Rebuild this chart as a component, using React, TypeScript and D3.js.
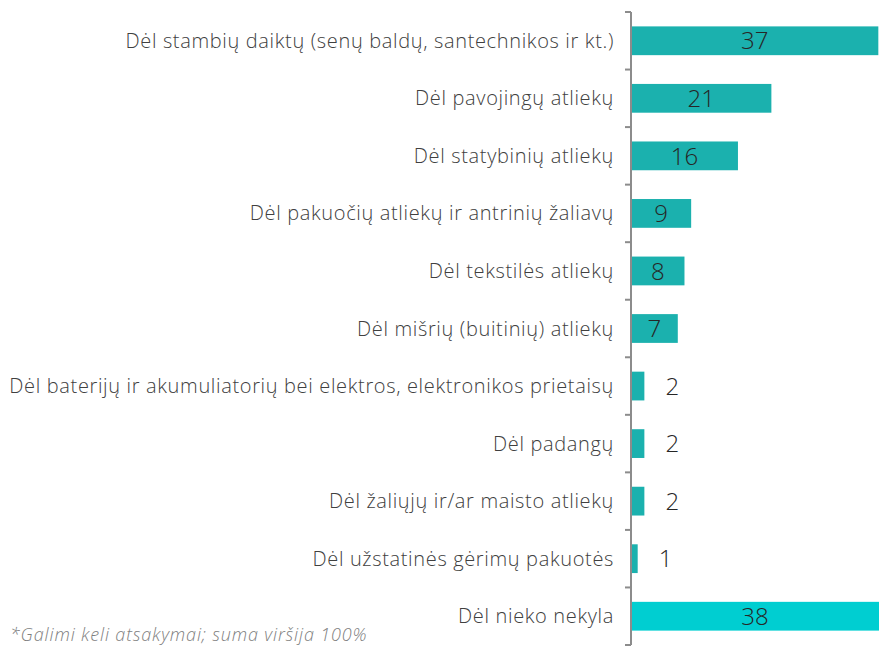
import React from "react";
import * as d3 from "d3";

const categories = [
  "Dėl stambių daiktų (senų baldų, santechnikos ir kt.)",
  "Dėl pavojingų atliekų",
  "Dėl statybinių atliekų ",
  "Dėl pakuočių atliekų ir antrinių žaliavų",
  "Dėl tekstilės atliekų",
  "Dėl mišrių (buitinių) atliekų",
  "Dėl baterijų ir akumuliatorių bei elektros, elektronikos prietaisų",
  "Dėl padangų",
  "Dėl žaliųjų ir/ar maisto atliekų",
  "Dėl užstatinės gėrimų pakuotės",
  "Dėl nieko nekyla",
];
const values = [37, 21, 16, 9, 8, 7, 2, 2, 2, 1, 38];
const footnote = "*Galimi keli atsakymai; suma viršija 100%";

const W = 879;
const H = 647;

export default function App() {
  const axisX = 631;
  const x = d3.scaleLinear().domain([0, 37.1]).range([axisX, 879]);
  const y = d3.scaleBand<string>().domain(categories).range([12, 645]).paddingInner(0.5).paddingOuter(0.25);
  const step = y.step();
  const bounds = d3.range(categories.length + 1).map((i) => 12 + i * step);
  return (
    <svg width={W} height={H} style={{ position: "absolute", left: 0, top: 0 }}>
      <rect width={W} height={H} fill="#ffffff" />
      {categories.map((c, i) => {
        const v = values[i];
        const y0 = y(c)!;
        const bw = x(v) - axisX;
        const last = i === categories.length - 1;
        const inside = v >= 5;
        const lx = inside ? axisX + Math.min(bw, 879 - axisX) / 2 : x(v) + 28;
        return (
          <g key={c}>
            <rect x={axisX} y={y0} width={bw} height={y.bandwidth()} fill={last ? "#00CED1" : "#1BB1AE"} />
            <text
              x={axisX - 17}
              y={y0 + y.bandwidth() / 2}
              dy="0.35em"
              textAnchor="end"
              fontFamily="'Open Sans', sans-serif"
              fontWeight={300}
              fontSize={20}
              letterSpacing={0.65}
              fill="#404040"
            >
              {c}
            </text>
            <text
              x={lx}
              y={y0 + y.bandwidth() / 2}
              dy="0.36em"
              textAnchor="middle"
              fontFamily="'Open Sans', sans-serif"
              fontWeight={300}
              fontSize={24}
              fill="#262626"
            >
              {v}
            </text>
          </g>
        );
      })}
      <line x1={axisX} x2={axisX} y1={12} y2={645} stroke="#8c8c8c" strokeWidth={2} />
      {bounds.map((b, i) => (
        <line key={i} x1={axisX - 6} x2={axisX} y1={b} y2={b} stroke="#8c8c8c" strokeWidth={2} />
      ))}
      <text x={10} y={641} fontFamily="'Open Sans', sans-serif" fontStyle="italic" fontWeight={300} fontSize={18} letterSpacing={0.85} fill="#7f7f7f">
        {footnote}
      </text>
    </svg>
  );
}
